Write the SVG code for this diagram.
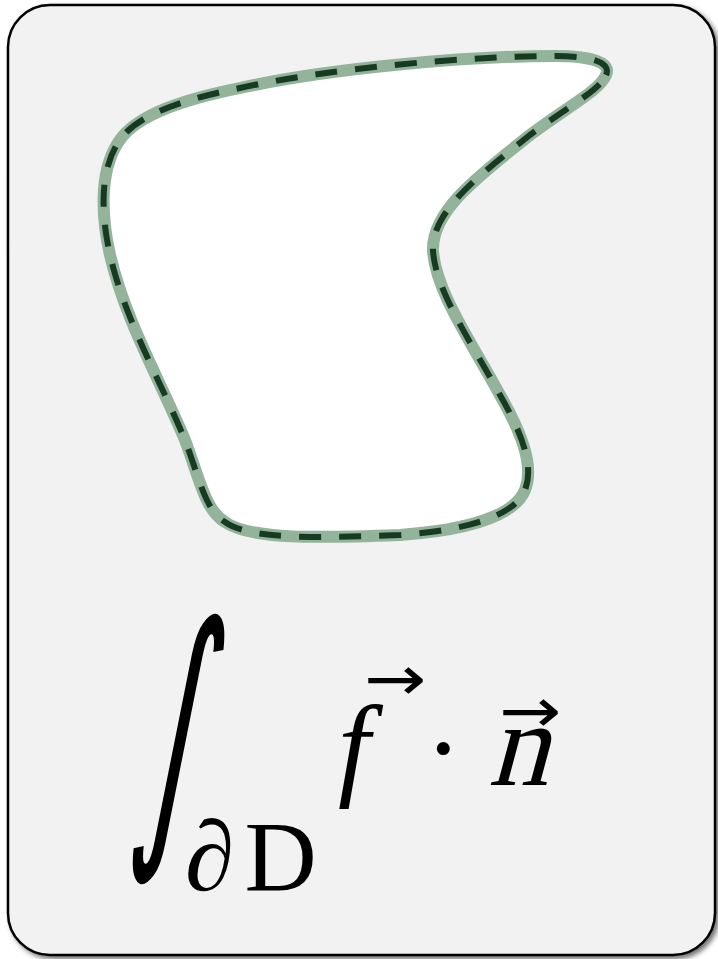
<svg xmlns="http://www.w3.org/2000/svg" width="718" height="959" viewBox="0 0 718 959">
<defs>
<filter id="sh" x="-5%" y="-5%" width="110%" height="110%">
<feDropShadow dx="3" dy="3" stdDeviation="2.5" flood-color="#000" flood-opacity="0.55"/>
</filter>
<style>
.card{fill:#f2f2f2;stroke:#000;stroke-width:2.5}
.halo{fill:#fff;stroke:#93b39b;stroke-width:12}
.dash{fill:none;stroke:#173a22;stroke-width:6;stroke-dasharray:22 18}
.r{font-family:"Liberation Serif","DejaVu Serif",serif;fill:#000}
.s{font-family:"DejaVu Sans",sans-serif;fill:#000}
</style>
</defs>
<g id="card">
<rect class="card" x="8" y="5" width="707" height="950" rx="42" filter="url(#sh)"/>
</g>
<g id="region">
<path class="halo" d="M 606,75 C 612,62 590,56 555,56 C 470,56 330,68 240,88 C 180,100 140,115 122,137 C 100,165 100,210 110,255 C 125,320 160,380 185,440 C 200,480 205,510 225,522 C 250,540 320,538 400,535 C 470,530 515,515 525,490 C 535,465 520,430 500,395 C 470,340 435,290 433,250 C 432,210 480,175 530,135 C 570,105 600,90 606,75 Z"/>
<path class="dash" d="M 606,75 C 612,62 590,56 555,56 C 470,56 330,68 240,88 C 180,100 140,115 122,137 C 100,165 100,210 110,255 C 125,320 160,380 185,440 C 200,480 205,510 225,522 C 250,540 320,538 400,535 C 470,530 515,515 525,490 C 535,465 520,430 500,395 C 470,340 435,290 433,250 C 432,210 480,175 530,135 C 570,105 600,90 606,75 Z"/>
</g>
<g id="formula">
<text class="s" x="0" y="0" font-size="180" transform="translate(130,825) scale(0.75,1.55) skewX(-20)">∫</text>
<text class="r" x="185" y="890" font-size="100"><tspan font-style="italic">∂</tspan><tspan dx="10">D</tspan></text>
<text class="r" x="338" y="785" font-size="115" font-style="italic">f</text>
<text class="r" x="425" y="785" font-size="110">·</text>
<text class="r" x="0" y="0" font-size="120" transform="translate(488,785) skewX(-15)">n</text>
<text class="s" x="0" y="0" font-size="62" transform="translate(364,700) scale(1.2,1)">→</text>
<text class="s" x="0" y="0" font-size="62" transform="translate(499,732) scale(1.2,1)">→</text>
</g>
</svg>
